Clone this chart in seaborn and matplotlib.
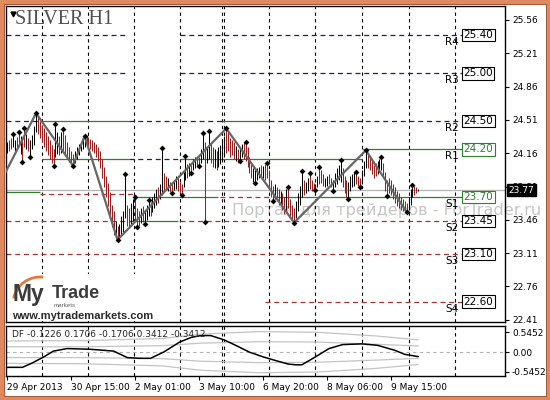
import numpy as np
import pandas as pd
import matplotlib
matplotlib.use("Agg")
import matplotlib.pyplot as plt
from matplotlib.patches import Arc, Rectangle
import seaborn as sns

# H1 bars of SILVER (bar 0 = 29 Apr 2013 06:00)
high = [
    24.28, 24.30, 24.32, 24.36, 24.30, 24.33, 24.38, 24.34, 24.30, 24.43,
    24.36, 24.32, 24.30, 24.35, 24.45, 24.58, 24.55, 24.50, 24.46, 24.42,
    24.38, 24.34, 24.30, 24.25, 24.20, 24.47, 24.38, 24.34, 24.38, 24.41,
    24.35, 24.28, 24.22, 24.18, 24.15, 24.18, 24.22, 24.26, 24.28, 24.31,
    24.34, 24.34, 24.33, 24.31, 24.30, 24.28, 24.26, 24.22, 24.18, 24.10,
    24.02, 23.92, 23.85, 23.75, 23.62, 23.55, 23.45, 23.40, 23.42, 23.50,
    23.55, 23.94, 23.62, 23.58, 23.64, 23.68, 23.70, 23.58, 23.55, 23.58,
    23.60, 23.56, 23.62, 23.67, 23.65, 23.70, 23.74, 23.78, 23.80, 23.84,
    24.21, 23.95, 23.92, 23.90, 23.86, 23.85, 23.88, 23.92, 23.90, 23.86,
    23.84, 23.96, 24.13, 24.05, 24.06, 24.04, 24.10, 24.12, 24.10, 24.12,
    24.20, 24.37, 24.28, 24.22, 24.39, 24.26, 24.22, 24.20, 24.18, 24.22,
    24.25, 24.30, 24.34, 24.42, 24.38, 24.32, 24.30, 24.28, 24.24, 24.20,
    24.22, 24.26, 24.28, 24.28, 24.22, 24.12, 24.05, 24.00, 23.98, 24.00,
    24.02, 24.04, 24.03, 24.05, 24.06, 23.98, 23.88, 23.82, 23.84, 23.80,
    23.78, 23.76, 23.74, 23.70, 23.78, 23.81, 23.68, 23.62, 23.58, 23.66,
    23.74, 23.82, 23.97, 23.88, 23.86, 23.90, 23.95, 23.88, 23.85, 23.84,
    23.92, 24.02, 23.98, 23.94, 23.90, 23.92, 23.94, 23.90, 23.88, 23.95,
    24.00, 24.04, 24.09, 24.00, 23.92, 23.88, 23.86, 23.92, 23.94, 23.96,
    23.96, 23.92, 23.90, 23.98, 24.08, 24.19, 24.15, 24.12, 24.08, 24.04,
    24.06, 24.08, 24.10, 24.12, 24.06, 23.96, 23.88, 23.90, 23.88, 23.84,
    23.80, 23.76, 23.74, 23.70, 23.68, 23.66, 23.64, 23.70, 23.78, 23.83,
    23.82, 23.80, 23.78,
]
low = [
    24.16, 24.18, 24.20, 24.22, 24.18, 24.20, 24.24, 24.15, 24.07, 24.22,
    24.20, 24.18, 24.12, 24.20, 24.25, 24.38, 24.36, 24.32, 24.28, 24.22,
    24.18, 24.14, 24.10, 24.06, 24.03, 24.12, 24.15, 24.14, 24.16, 24.18,
    24.14, 24.10, 24.07, 24.05, 24.03, 24.06, 24.10, 24.14, 24.18, 24.20,
    24.22, 24.24, 24.22, 24.20, 24.18, 24.16, 24.12, 24.08, 24.00, 23.90,
    23.80, 23.70, 23.60, 23.48, 23.38, 23.30, 23.27, 23.25, 23.27, 23.30,
    23.33, 23.48, 23.40, 23.38, 23.42, 23.45, 23.46, 23.38, 23.40, 23.43,
    23.44, 23.42, 23.46, 23.50, 23.50, 23.54, 23.58, 23.62, 23.64, 23.68,
    23.72, 23.76, 23.78, 23.76, 23.75, 23.74, 23.77, 23.78, 23.76, 23.74,
    23.72, 23.80, 23.88, 23.90, 23.92, 23.95, 23.98, 24.00, 24.02, 24.03,
    24.06, 24.10, 23.44, 24.06, 24.10, 24.06, 24.02, 24.00, 23.98, 24.02,
    24.05, 24.08, 24.12, 24.16, 24.18, 24.12, 24.14, 24.10, 24.08, 24.06,
    24.08, 24.12, 24.10, 24.08, 24.02, 23.95, 23.90, 23.86, 23.85, 23.88,
    23.90, 23.92, 23.90, 23.88, 23.90, 23.80, 23.70, 23.66, 23.68, 23.66,
    23.62, 23.60, 23.56, 23.52, 23.54, 23.58, 23.48, 23.45, 23.43, 23.48,
    23.55, 23.62, 23.70, 23.72, 23.74, 23.76, 23.78, 23.76, 23.78, 23.77,
    23.80, 23.84, 23.85, 23.82, 23.80, 23.82, 23.84, 23.80, 23.76, 23.80,
    23.84, 23.88, 23.86, 23.80, 23.74, 23.70, 23.68, 23.76, 23.80, 23.82,
    23.84, 23.82, 23.80, 23.84, 23.92, 24.00, 24.00, 23.98, 23.94, 23.90,
    23.92, 23.94, 23.96, 23.98, 23.90, 23.76, 23.71, 23.74, 23.72, 23.68,
    23.64, 23.60, 23.58, 23.56, 23.55, 23.55, 23.54, 23.56, 23.62, 23.70,
    23.72, 23.74, 23.76,
]
# u = bull bar (black), d = bear bar (red)
direction = ("udduuddudduduuuu" + "ddddddddduududddddd" + "uuuuuu"
             + "dddddddddddddddud" + "uuuudduuddduduuuduuuduu"
             + "ddudduuddduududuudduuduudduduuuu"
             + "dddddud" "uudddd" "duuuud" "uddddd" "uddudd" "udddd"
             + "uuuudu" "uddduu" "ddduud" "duuuuu" "ddduuu" "uddduuu"
             + "ddddduuud" "dddddddddddd" + "uuuddu")

zz_bar = [-1, 15, 34, 40, 57, 113, 148, 185, 206]
zz_price = [23.95, 24.58, 24.03, 24.34, 23.25, 24.42, 23.43, 24.19, 23.54]

fractal_up = [3, 6, 9, 15, 25, 29, 40, 61, 66, 73, 80, 92, 101, 104, 113,
              123, 134, 145, 152, 156, 161, 172, 180, 185, 193, 209]
fractal_dn = [8, 12, 24, 34, 57, 67, 71, 85, 90, 95, 99, 102, 120, 128, 137,
              148, 159, 168, 176, 182, 196, 206]

level_names = ["R4", "R3", "R2", "R1", "S1", "S2", "S3", "S4"]
level_values = [25.40, 25.00, 24.50, 24.20, 23.70, 23.45, 23.10, 22.60]
level_kinds = ["res", "res", "res", "key", "key", "sup", "sup", "sup"]
last_price = 23.77

# levels per day: (from bar, to bar, price, kind)
level_segments = [
    (-0.5, 62, 25.40, "res"), (89, 235.5, 25.40, "res"),
    (-0.5, 62, 25.00, "res"), (89, 235.5, 25.00, "res"),
    (-0.5, 18, 24.50, "res"), (18, 63, 24.50, "key"), (63, 111, 24.50, "res"),
    (111, 135, 24.50, "key"), (135, 235.5, 24.50, "res"),
    (18, 63, 24.10, "key"), (63, 89, 24.10, "res"), (89, 183, 24.10, "key"),
    (183, 235.5, 24.20, "key"),
    (-0.5, 17, 23.75, "key"), (17, 65, 23.73, "sup"),
    (65, 109, 23.70, "key"), (110, 138, 23.70, "sup"), (138, 235.5, 23.70, "key"),
    (-0.5, 65, 23.45, "sup"), (65, 88, 23.45, "key"), (89, 235.5, 23.45, "sup"),
    (-0.5, 235.5, 23.10, "sup"),
    (133, 235.5, 22.60, "sup"),
]

time_bars = [0, 33, 66, 99, 132, 165, 198]
time_labels = ["29 Apr 2013", "30 Apr 15:00", "2 May 01:00", "3 May 10:00",
               "6 May 20:00", "8 May 06:00", "9 May 15:00"]
day_bars = [18, 42, 65.5, 89, 111, 112, 135, 159, 183, 207, 231]
price_ticks = [25.56, 25.21, 24.86, 24.51, 24.16, 23.81, 23.46, 23.11, 22.76, 22.41]

df_bar = [0, 8, 13, 19, 24, 31, 43, 55, 62, 68, 74, 81, 89, 95, 100, 105, 112,
          119, 125, 132, 139, 145, 149, 152, 159, 166, 173, 183, 191, 200, 205, 212]
df_value = [-0.42, -0.42, -0.30, -0.13, 0.03, 0.10, 0.08, 0.03, -0.15, -0.17,
            -0.17, 0.01, 0.28, 0.41, 0.46, 0.46, 0.34, 0.16, 0.00, -0.13, -0.24,
            -0.33, -0.35, -0.35, -0.13, 0.10, 0.21, 0.23, 0.19, 0.05, -0.06, -0.1226]
band_bar = [0, 40, 80, 100, 130, 160, 190, 212]
band_up_inner = [0.15, 0.15, 0.18, 0.25, 0.29, 0.28, 0.22, 0.1706]
band_up_outer = [0.31, 0.32, 0.38, 0.50, 0.57, 0.55, 0.45, 0.3412]
band_dn_inner = [-0.15, -0.15, -0.18, -0.25, -0.29, -0.28, -0.22, -0.1706]
band_dn_outer = [-0.31, -0.32, -0.38, -0.50, -0.57, -0.55, -0.45, -0.3412]
df_ticks = [0.5452, 0.0, -0.5452]
df_ticklabels = ["0.5452", "0.00", "-0.5452"]

assert len(high) == len(low) == len(direction)

sns.set_style("white")
plt.rcParams["font.family"] = ["DejaVu Sans"]

RED = "#9c1f1f"
styles = {
    "res": dict(color="#1e1e70", linestyle=(0, (4, 3)), linewidth=0.9),
    "key": dict(color="#2f7f2f", linestyle="-", linewidth=0.9),
    "sup": dict(color="#a33434", linestyle=(0, (4, 3)), linewidth=0.9),
}
box_colors = {"res": "black", "key": "#2f7f2f", "sup": "black"}

fig = plt.figure(figsize=(5.5, 4), dpi=100)
ax = fig.add_axes([6 / 550, 78 / 400, 499 / 550, 316 / 400])
ax2 = fig.add_axes([6 / 550, 24 / 400, 499 / 550, 50 / 400])

bars = pd.DataFrame({"bar": np.arange(len(high)), "high": high, "low": low,
                     "dir": list(direction)})

# grid = day separators
for a in (ax, ax2):
    for b in day_bars:
        a.axvline(b, color="black", linestyle=(0, (3, 3)), linewidth=0.8, zorder=1)

for start, end, price, kind in level_segments:
    ax.hlines(price, start, end, zorder=2, **styles[kind])
ax.axhline(last_price, color="#b4b4b4", linewidth=0.9, zorder=2)

bar_colors = np.where(bars["dir"] == "u", "black", RED)
ax.vlines(bars["bar"], bars["low"], bars["high"], colors=bar_colors,
          linewidth=0.75, zorder=4)

sns.lineplot(x=zz_bar, y=zz_price, ax=ax, color="#666666", linewidth=1.6, zorder=5)
sns.scatterplot(x=fractal_up, y=bars.loc[fractal_up, "high"].values, ax=ax,
                marker="D", s=9, color="black", linewidth=0, zorder=6)
sns.scatterplot(x=fractal_dn, y=bars.loc[fractal_dn, "low"].values, ax=ax,
                marker="D", s=9, color="black", linewidth=0, zorder=6)

# level labels
for name, val, kind in zip(level_names, level_values, level_kinds):
    ax.annotate(name, xy=(229.5, val), xytext=(0, -1.5), textcoords="offset points",
                ha="center", va="top", fontsize=7.5, color="black", zorder=7)
    c = box_colors[kind]
    ax.annotate(f"{val:.2f}", xy=(243, val), ha="center", va="center",
                fontsize=7.5, color=c, zorder=7,
                bbox=dict(boxstyle="square,pad=0.12", fc="white", ec=c, lw=0.8))

ax.annotate(f"{last_price:.2f}", xy=(1.0, last_price),
            xycoords=("axes fraction", "data"), xytext=(2.5, 0),
            textcoords="offset points", ha="left", va="center", fontsize=6.5,
            color="white", annotation_clip=False, zorder=10,
            bbox=dict(boxstyle="square,pad=0.15", fc="black", ec="black"))

ax.text(232 / 550, 1 - 210 / 400, "Портал для трейдеров - ForTrader.ru",
        transform=fig.transFigure, fontsize=11.7, color="#c6c6c6",
        ha="left", va="center", zorder=0.5, clip_on=False)

ax.set_xlim(-0.5, 256.7)
ax.set_ylim(22.386, 25.707)
ax.set_xticks([])
ax.set_yticks(price_ticks)
ax.set_yticklabels([f"{p:.2f}" for p in price_ticks])
ax.yaxis.tick_right()
ax.tick_params(axis="y", right=True, left=False, labelright=True, labelleft=False,
               length=3, width=0.8, labelsize=6.5, pad=2, colors="black")

# DF indicator
ax2.axhline(0, color="#b0b0b0", linestyle=(0, (3, 3)), linewidth=0.8, zorder=2)
for band in (band_up_inner, band_up_outer, band_dn_inner, band_dn_outer):
    sns.lineplot(x=band_bar, y=band, ax=ax2, color="#c4c4c4", linewidth=0.9, zorder=2)
sns.lineplot(x=df_bar, y=df_value, ax=ax2, color="black", linewidth=1.1, zorder=4)
ax2.text(0.012, 0.92, "DF -0.1226 0.1706 -0.1706 0.3412 -0.3412",
         transform=ax2.transAxes, fontsize=6.5, va="top", ha="left", zorder=6)
ax2.set_xlim(-0.5, 256.7)
ax2.set_ylim(-0.66, 0.725)
ax2.set_yticks(df_ticks)
ax2.set_yticklabels(df_ticklabels)
ax2.yaxis.tick_right()
ax2.tick_params(axis="y", right=True, left=False, labelright=True, labelleft=False,
                length=3, width=0.8, labelsize=6.5, pad=2, colors="black")
ax2.set_xticks(time_bars)
ax2.set_xticklabels(time_labels)
ax2.tick_params(axis="x", bottom=True, length=3, width=0.8, labelsize=6.5, pad=2,
                colors="black")
for lbl in ax2.get_xticklabels():
    lbl.set_ha("left")
ax2.set_xlabel("")
ax2.set_ylabel("")
ax.set_xlabel("")
ax.set_ylabel("")

for a in (ax, ax2):
    for sp in a.spines.values():
        sp.set_color("black")
        sp.set_linewidth(1.0)
    if a.get_legend() is not None:
        a.get_legend().remove()

# overlay in pixel units: frame, title, logo
ov = fig.add_axes([0, 0, 1, 1], zorder=10)
ov.set_xlim(0, 550)
ov.set_ylim(400, 0)
ov.axis("off")
ov.patch.set_alpha(0)
ov.add_patch(Rectangle((2, 2), 546, 396, fill=False, ec="#de8a5e", lw=3.6))
ov.add_patch(Rectangle((4.3, 4.3), 541.4, 391.4, fill=False, ec="#9a5233", lw=0.6))

ov.plot([13], [14], marker="v", markersize=3.5, color="black")
ov.text(15, 20, "SILVER H1", fontfamily="Liberation Serif", fontsize=14.5,
        color="#505050", ha="left", va="center")

ov.add_patch(Rectangle((7.5, 274), 152, 47, fc="white", ec="none"))
ov.add_patch(Arc((40, 304), 54, 54, theta1=192, theta2=277, color="#e07b3c", lw=2))
ov.text(13, 294, "My", fontfamily="Liberation Sans", fontweight="bold",
        fontsize=16.5, color="#3c3c3c", ha="left", va="center")
ov.text(52, 294, "Trade", fontfamily="Liberation Sans", fontweight="bold",
        fontsize=13, color="#3c3c3c", ha="left", va="center")
ov.text(54, 305.5, "markets", fontfamily="Liberation Sans", fontsize=4.5,
        color="#666666", ha="left", va="center")
ov.text(12, 316, "www.mytrademarkets.com", fontfamily="Liberation Sans",
        fontweight="bold", fontsize=8, color="#2a2a2a", ha="left", va="center")

fig.savefig("out.png", dpi=100)
